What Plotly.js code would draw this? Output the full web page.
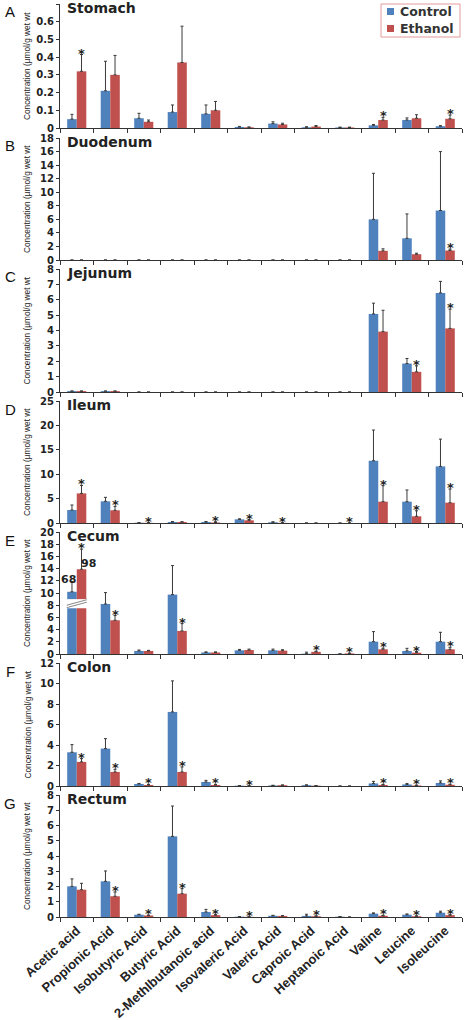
<!DOCTYPE html>
<html><head><meta charset="utf-8">
<script src="https://cdn.plot.ly/plotly-3.0.1.min.js"></script>
<style>html,body{margin:0;padding:0;background:#fff}#chart{width:466px;height:1020px}</style>
</head><body><div id="chart"></div>
<script>
const categories = ['Acetic acid','Propionic Acid','Isobutyric Acid','Butyric Acid','2-Methlbutanoic acid','Isovaleric Acid','Valeric Acid','Caproic Acid','Heptanoic Acid','Valine','Leucine','Isoleucine'];
const seriesNames = ['Control','Ethanol'];
const panelNames = ['Stomach','Duodenum','Jejunum','Ileum','Cecum','Colon','Rectum'];
const panelLetters = ['A','B','C','D','E','F','G'];
const yMax = [0.7, 18, 8, 25, 20, 12, 8];
const yDtick = [0.1, 2, 1, 5, 2, 2, 1];

const stomachControl    = [0.05, 0.21, 0.055, 0.09, 0.08, 0.006, 0.025, 0.004, 0.003, 0.015, 0.045, 0.01];
const stomachControlErr = [0.027, 0.167, 0.028, 0.04, 0.05, 0.003, 0.01, 0.003, 0.002, 0.005, 0.012, 0.003];
const stomachEthanol    = [0.32, 0.30, 0.035, 0.37, 0.10, 0.004, 0.02, 0.008, 0.003, 0.045, 0.055, 0.052];
const stomachEthanolErr = [0.095, 0.11, 0.01, 0.205, 0.05, 0.002, 0.007, 0.006, 0.002, 0.015, 0.02, 0.021];
const stomachStars = [0, 9, 11];

const duodenumControl    = [0, 0, 0, 0, 0, 0, 0, 0, 0, 6.0, 3.2, 7.3];
const duodenumControlErr = [0, 0, 0, 0, 0, 0, 0, 0, 0, 6.8, 3.6, 8.7];
const duodenumEthanol    = [0, 0, 0, 0, 0, 0, 0, 0, 0, 1.35, 0.85, 1.4];
const duodenumEthanolErr = [0, 0, 0, 0, 0, 0, 0, 0, 0, 0.3, 0.15, 0.2];
const duodenumStars = [11];

const jejunumControl    = [0.06, 0.06, 0, 0, 0, 0, 0, 0, 0, 5.08, 1.85, 6.45];
const jejunumControlErr = [0, 0, 0, 0, 0, 0, 0, 0, 0, 0.7, 0.33, 0.75];
const jejunumEthanol    = [0.06, 0.06, 0, 0, 0, 0, 0, 0, 0, 3.93, 1.31, 4.14];
const jejunumEthanolErr = [0, 0, 0, 0, 0, 0, 0, 0, 0, 1.39, 0.39, 1.25];
const jejunumStars = [10, 11];

const ileumControl    = [2.66, 4.44, 0.05, 0.2, 0.2, 0.75, 0.15, 0, 0, 12.76, 4.37, 11.6];
const ileumControlErr = [1.03, 0.82, 0.02, 0.1, 0.1, 0.1, 0.1, 0, 0, 6.3, 2.4, 5.6];
const ileumEthanol    = [6.07, 2.6, 0.03, 0.2, 0.1, 0.55, 0.03, 0, 0, 4.37, 1.37, 4.16];
const ileumEthanolErr = [1.63, 0.8, 0.01, 0.05, 0.15, 0.15, 0.02, 0, 0, 3.28, 1.13, 2.8];
const ileumStars = [0, 1, 2, 4, 5, 6, 8, 9, 10, 11];

// Cecum acetic acid bars are drawn truncated (axis break); their true means are in cecumAceticLabels
const cecumControl    = [10.2, 8.2, 0.5, 9.74, 0.25, 0.6, 0.6, 0.05, 0.02, 2.02, 0.5, 2.02];
const cecumControlErr = [1.7, 1.87, 0.15, 4.76, 0.1, 0.15, 0.2, 0.25, 0, 1.65, 0.43, 1.54];
const cecumEthanol    = [13.9, 5.53, 0.5, 3.78, 0.25, 0.65, 0.55, 0.35, 0.1, 0.77, 0.22, 0.77];
const cecumEthanolErr = [3.3, 0.77, 0.1, 1.2, 0.1, 0.15, 0.15, 0.1, 0.02, 0.18, 0.18, 0.33];
const cecumStars = [0, 1, 3, 7, 8, 9, 10, 11];
const cecumAceticLabels = ['68', '98'];
const cecumBreak = [7.5, 9.0];

const colonControl    = [3.29, 3.65, 0.2, 7.23, 0.39, 0.03, 0.05, 0.08, 0, 0.25, 0.15, 0.3];
const colonControlErr = [0.75, 0.97, 0.05, 3.03, 0.16, 0.01, 0.02, 0.03, 0, 0.2, 0.1, 0.2];
const colonEthanol    = [2.35, 1.37, 0.1, 1.37, 0.1, 0.01, 0.08, 0.03, 0, 0.1, 0.05, 0.12];
const colonEthanolErr = [0.32, 0.26, 0.05, 0.49, 0.05, 0.01, 0.02, 0.01, 0, 0.05, 0.03, 0.05];
const colonStars = [0, 1, 2, 3, 4, 5, 9, 10, 11];

const rectumControl    = [2.01, 2.34, 0.15, 5.29, 0.33, 0.02, 0.08, 0.07, 0.02, 0.22, 0.15, 0.28];
const rectumControlErr = [0.49, 0.68, 0.03, 1.99, 0.17, 0.01, 0.03, 0.11, 0.01, 0.05, 0.05, 0.1];
const rectumEthanol    = [1.79, 1.36, 0.1, 1.53, 0.12, 0.01, 0.07, 0.05, 0, 0.08, 0.05, 0.12];
const rectumEthanolErr = [0.42, 0.28, 0.02, 0.33, 0.03, 0.005, 0.02, 0.02, 0, 0.03, 0.02, 0.03];
const rectumStars = [1, 2, 3, 4, 5, 7, 9, 10, 11];

const panels = [
  [stomachControl, stomachControlErr, stomachEthanol, stomachEthanolErr, stomachStars],
  [duodenumControl, duodenumControlErr, duodenumEthanol, duodenumEthanolErr, duodenumStars],
  [jejunumControl, jejunumControlErr, jejunumEthanol, jejunumEthanolErr, jejunumStars],
  [ileumControl, ileumControlErr, ileumEthanol, ileumEthanolErr, ileumStars],
  [cecumControl, cecumControlErr, cecumEthanol, cecumEthanolErr, cecumStars],
  [colonControl, colonControlErr, colonEthanol, colonEthanolErr, colonStars],
  [rectumControl, rectumControlErr, rectumEthanol, rectumEthanolErr, rectumStars]
];

// layout geometry (pixels)
const W = 466, H = 1020;
const panelTopPx = [4, 138, 269, 401, 532, 663, 795];
const panelZeroPx = [128, 260, 392, 523, 654, 786, 917];
const xLeftPx = 60, xRightPx = 462;
const legendBoxPx = [381, 4, 460, 37]; // x0, y0, x1, y1

const BLUE = '#4F81BD', RED = '#C0504D';
const seriesColors = [BLUE, RED];
const boldFont = 'DejaVu Sans, Verdana, sans-serif';
const arialFont = 'Liberation Sans, Arial, sans-serif';
const px = v => v / W, py = v => 1 - v / H;
const traces = [];
const layout = {
  width: W, height: H,
  margin: {l: 0, r: 0, t: 0, b: 0},
  paper_bgcolor: '#fff', plot_bgcolor: '#fff',
  barmode: 'group', bargap: 0.43, bargroupgap: 0,
  showlegend: false,
  annotations: [], shapes: []
};
const noZero = a => a.map(v => (v > 0 ? v : null));

panels.forEach((p, i) => {
  const n = i + 1;
  const xa = 'x' + (n === 1 ? '' : n), ya = 'y' + (n === 1 ? '' : n);
  const [c, ce, e, ee, stars] = p;
  const zeros = c.map(() => 0);
  traces.push({type: 'bar', name: seriesNames[0], x: categories, y: c, xaxis: xa, yaxis: ya,
    marker: {color: BLUE},
    error_y: {type: 'data', symmetric: false, array: noZero(ce), arrayminus: zeros, color: '#3a3a3a', thickness: 1, width: 1.5}});
  traces.push({type: 'bar', name: seriesNames[1], x: categories, y: e, xaxis: xa, yaxis: ya,
    marker: {color: RED},
    error_y: {type: 'data', symmetric: false, array: noZero(ee), arrayminus: zeros, color: '#3a3a3a', thickness: 1, width: 1.5}});

  const dom = [py(panelZeroPx[i]), py(panelTopPx[i])];
  layout['xaxis' + (n === 1 ? '' : n)] = {
    domain: [px(xLeftPx), px(xRightPx)], anchor: ya, type: 'category',
    categoryarray: categories, range: [-0.5, 11.5],
    showline: true, linecolor: '#333', linewidth: 1, ticks: 'outside', ticklen: 4, tickcolor: '#333',
    tickson: 'boundaries', showgrid: false, zeroline: false,
    showticklabels: n === 7, tickangle: -42,
    tickfont: {family: arialFont, size: 13, color: '#222', weight: 700}
  };
  layout['yaxis' + (n === 1 ? '' : n)] = {
    domain: dom, anchor: xa, range: [0, yMax[i] * 1.0005], dtick: yDtick[i], tick0: 0,
    showline: true, linecolor: '#333', linewidth: 1, ticks: 'outside', ticklen: 3, tickcolor: '#333',
    showgrid: false, zeroline: false,
    tickfont: {family: boldFont, size: 10, color: '#222', weight: 700}
  };

  // stars over ethanol bars
  stars.forEach(k => {
    layout.annotations.push({xref: xa, yref: ya, x: categories[k], y: e[k] + ee[k],
      text: '*', showarrow: false, xanchor: 'center', yanchor: 'bottom', xshift: 5, yshift: -8,
      font: {family: boldFont, size: 13, color: '#222', weight: 700}});
  });
  // panel title
  layout.annotations.push({xref: 'paper', yref: 'paper', x: px(66), y: dom[1], xanchor: 'left', yanchor: 'top',
    yshift: 5, borderpad: 0, text: panelNames[i], showarrow: false,
    font: {family: boldFont, size: 14, color: '#222', weight: 700}});
  // panel letter
  layout.annotations.push({xref: 'paper', yref: 'paper', x: px(10), y: py(panelTopPx[i] + 8),
    xanchor: 'center', yanchor: 'middle', text: panelLetters[i], showarrow: false,
    font: {family: arialFont, size: 15, color: '#111'}});
  // y title
  layout.annotations.push({xref: 'paper', yref: 'paper', x: px(27), y: (dom[0] + dom[1]) / 2,
    xanchor: 'center', yanchor: 'middle', textangle: -90, text: 'Concentration (µmol/g wet wt',
    showarrow: false, font: {family: arialFont, size: 8.3, color: '#222'}});
});

// Legend (boxed, top right)
layout.shapes.push({type: 'rect', xref: 'paper', yref: 'paper',
  x0: px(legendBoxPx[0]), x1: px(legendBoxPx[2]), y0: py(legendBoxPx[3]), y1: py(legendBoxPx[1]),
  fillcolor: '#fff', line: {color: '#E39A9A', width: 1}});
seriesNames.forEach((name, j) => {
  const cy = legendBoxPx[1] + 7.5 + j * 17;
  layout.shapes.push({type: 'rect', xref: 'paper', yref: 'paper',
    x0: px(387), x1: px(394), y0: py(cy + 3.5), y1: py(cy - 3.5),
    fillcolor: seriesColors[j], line: {width: 0}});
  layout.annotations.push({xref: 'paper', yref: 'paper', x: px(399), y: py(cy), xanchor: 'left', yanchor: 'middle',
    text: name, showarrow: false, borderpad: 0,
    font: {family: boldFont, size: 12.5, color: '#333', weight: 700}});
});

// Cecum axis break on acetic acid bars
layout.shapes.push({type: 'rect', xref: 'x5', yref: 'y5', x0: -0.31, x1: 0.31, y0: cecumBreak[0], y1: cecumBreak[1],
  fillcolor: '#fff', line: {width: 0}, layer: 'above'});
layout.shapes.push({type: 'line', xref: 'x5', yref: 'y5', x0: -0.3, x1: 0.3, y0: cecumBreak[0] + 0.1, y1: cecumBreak[1] - 0.5,
  line: {color: '#888', width: 1}, layer: 'above'});
layout.shapes.push({type: 'line', xref: 'x5', yref: 'y5', x0: -0.3, x1: 0.3, y0: cecumBreak[0] + 0.5, y1: cecumBreak[1] - 0.1,
  line: {color: '#888', width: 1}, layer: 'above'});
layout.annotations.push({xref: 'x5', yref: 'y5', x: categories[0], y: cecumControl[0] + cecumControlErr[0],
  text: cecumAceticLabels[0], showarrow: false, xanchor: 'center', yanchor: 'bottom', xshift: -8, yshift: -7,
  font: {family: boldFont, size: 11, color: '#222', weight: 700}});
layout.annotations.push({xref: 'x5', yref: 'y5', x: categories[0], y: cecumEthanol[0],
  text: cecumAceticLabels[1], showarrow: false, xanchor: 'center', yanchor: 'bottom', xshift: 12, yshift: -3,
  font: {family: boldFont, size: 11, color: '#222', weight: 700}});

Plotly.newPlot('chart', traces, layout, {displayModeBar: false, staticPlot: true});
</script></body></html>
